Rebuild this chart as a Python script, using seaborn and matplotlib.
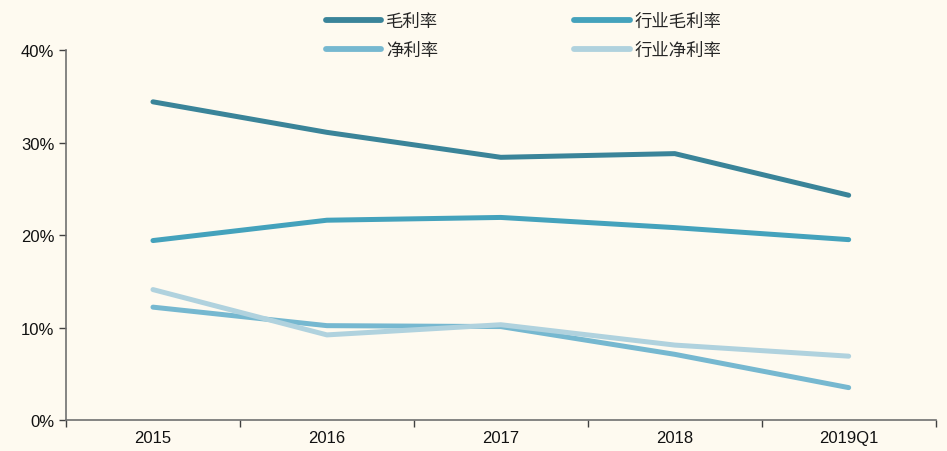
import pandas as pd
import numpy as np
import matplotlib.pyplot as plt
import seaborn as sns

# data (%)
years = ['2015', '2016', '2017', '2018', '2019Q1']
gross_margin = [34.4, 31.1, 28.4, 28.8, 24.3]
industry_gross = [19.4, 21.6, 21.9, 20.8, 19.5]
net_margin = [12.2, 10.2, 10.1, 7.1, 3.5]
industry_net = [14.1, 9.2, 10.3, 8.1, 6.9]

names = ['毛利率', '行业毛利率', '净利率', '行业净利率']
colors = ['#3A8499', '#44A2BC', '#76B8D0', '#B0D2DE']

df = pd.DataFrame({'年份': years * 4,
                   '值': gross_margin + industry_gross + net_margin + industry_net,
                   '指标': [n for n in names for _ in years]})

sns.set_theme(style='white')
plt.rcParams['font.family'] = ['Noto Sans CJK SC', 'DejaVu Sans']
bg = '#FEFAF0'

fig = plt.figure(figsize=(9.47, 4.52), dpi=100, facecolor=bg)
ax = fig.add_axes([0.0697, 0.0686, 0.9183, 0.8185])
ax.set_facecolor(bg)

sns.lineplot(data=df, x='年份', y='值', hue='指标', palette=colors, sort=False,
             linewidth=3.6, ax=ax, legend=False)
for ln in ax.lines:
    ln.set_solid_capstyle('round')

ax.set_ylim(0, 40)
ax.set_yticks([0, 10, 20, 30, 40])
ax.set_yticklabels([f'{v}%' for v in [0, 10, 20, 30, 40]], fontsize=12,
                   family='Liberation Sans', color='#111111')
ax.set_xlim(-0.5, 4.5)
ax.set_xticks(range(5))
ax.set_xticklabels(years, fontsize=12, family='Liberation Sans', color='#111111')
ax.set_xticks(np.arange(-0.5, 5, 1), minor=True)
ax.tick_params(axis='x', which='major', length=0, pad=7)
ax.tick_params(axis='x', which='minor', length=5, width=1, color='#404040',
               direction='out', bottom=True)
ax.tick_params(axis='y', length=5, width=1, color='#404040', direction='out', left=True)
ax.set_xlabel('')
ax.set_ylabel('')
sns.despine(ax=ax)
for s in ['left', 'bottom']:
    ax.spines[s].set_color('#707070')
    ax.spines[s].set_linewidth(1.2)

# legend filled column-wise, so reorder to read row by row
handles = [plt.Line2D([], [], color=c, linewidth=4.2, solid_capstyle='round') for c in colors]
order = [0, 2, 1, 3]
fig.legend([handles[i] for i in order], [names[i] for i in order], loc='upper center',
           bbox_to_anchor=(0.553, 1.005), ncol=2, frameon=False, fontsize=12.5,
           handlelength=3.2, handletextpad=0.3, columnspacing=7.8, labelspacing=0.6)

fig.savefig('out.png', dpi=100, facecolor=bg)
